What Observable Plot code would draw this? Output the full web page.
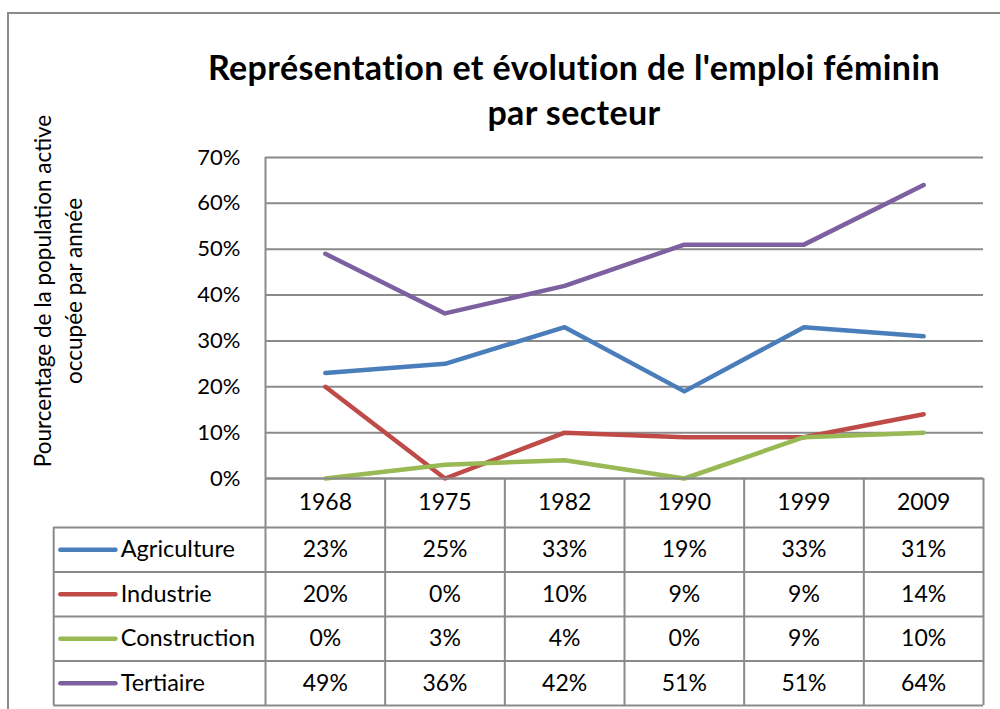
<!DOCTYPE html>
<html>
<head>
<meta charset="utf-8">
<script src="https://cdn.jsdelivr.net/npm/d3@7"></script>
<script src="https://cdn.jsdelivr.net/npm/@observablehq/plot@0.6"></script>
<style>
  body { margin: 0; background: #fff; }
  #wrap { position: relative; width: 1000px; height: 709px; overflow: hidden; background: #fff;
          font-family: Lato, "Open Sans", sans-serif; }
  #border { position: absolute; left: 7px; top: 12px; width: 1100px; height: 800px;
            border: 2px solid #8a8a8a; box-sizing: border-box; }
  #title { position: absolute; left: 0; width: 1148px; top: 44px; text-align: center;
           font-weight: 700; font-size: 34px; letter-spacing: 0.4px; line-height: 45px; color: #000; }
  .layer { position: absolute; left: 0; top: 0; }
</style>
</head>
<body>
<div id="wrap">
  <div id="border"></div>
  <div id="chart" class="layer"></div>
  <div id="table" class="layer"></div>
  <div id="title"></div>
</div>
<script>
// ---- data ----
const titleLines = ["Représentation et évolution de l'emploi féminin", "par secteur"];
const yTitle = "Pourcentage de la population active\noccupée par année";
const years = ["1968", "1975", "1982", "1990", "1999", "2009"];
const seriesNames = ["Agriculture", "Industrie", "Construction", "Tertiaire"];
const agriculture = [23, 25, 33, 19, 33, 31];
const industrie = [20, 0, 10, 9, 9, 14];
const construction = [0, 3, 4, 0, 9, 10];
const tertiaire = [49, 36, 42, 51, 51, 64];
const seriesColors = ["#4A7EBB", "#BE4B48", "#98B954", "#7D60A0"];
const yTicks = [0, 10, 20, 30, 40, 50, 60, 70];

// ---- derived table ----
const seriesValues = [agriculture, industrie, construction, tertiaire];
const rows = seriesNames.flatMap((s, si) =>
  years.map((year, i) => ({series: s, si, year, i, value: seriesValues[si][i]})));

const font = "Lato, 'Open Sans', sans-serif";
const gridColor = "#8a8a8a";
const colorScale = {domain: seriesNames, range: seriesColors};

document.getElementById("title").innerHTML = titleLines.join("<br>");

// ---- chart ----
const chart = Plot.plot({
  width: 1000, height: 709,
  marginLeft: 265, marginRight: 17, marginTop: 157, marginBottom: 231,
  x: {type: "linear", domain: [0, years.length], axis: null},
  y: {domain: [0, 70], axis: null},
  color: colorScale,
  style: {fontFamily: font, background: "transparent", overflow: "visible", color: "#000"},
  marks: [
    Plot.ruleY(yTicks, {stroke: gridColor, strokeWidth: 2}),
    Plot.ruleX([0], {stroke: gridColor, strokeWidth: 2}),
    Plot.line(rows, {
      x: d => d.i + 0.5, y: "value", z: "series", stroke: "series",
      strokeWidth: 4.5, strokeLinecap: "round", strokeLinejoin: "round"
    }),
    Plot.text(yTicks, {
      y: d => d, text: d => d + "%", frameAnchor: "left", textAnchor: "end",
      dx: -25, fontSize: 22, fill: "#000"
    }),
    Plot.text([yTitle], {
      text: d => d, frameAnchor: "left", textAnchor: "middle", rotate: -90, dx: -209, dy: -27,
      fontSize: 22.5, lineHeight: 1.4, fill: "#000"
    })
  ]
});
document.getElementById("chart").appendChild(chart);

// ---- data table ----
const labelLeft = -1.77, keyX1 = -1.71, keyX2 = -1.25, labelX = -1.21, headerTop = -1.1;
const table = Plot.plot({
  width: 1000, height: 709,
  marginLeft: 265, marginRight: 17, marginTop: 478, marginBottom: 4,
  x: {type: "linear", domain: [0, years.length], axis: null},
  y: {type: "linear", domain: [headerTop, seriesNames.length], range: [478, 705], axis: null},
  color: colorScale,
  style: {fontFamily: font, background: "transparent", overflow: "visible", color: "#000"},
  marks: [
    Plot.ruleY(d3.range(0, seriesNames.length + 1), {x1: labelLeft, x2: years.length, stroke: gridColor, strokeWidth: 2}),
    Plot.ruleY([headerTop], {x1: 0, x2: years.length, stroke: gridColor, strokeWidth: 2}),
    Plot.ruleX(d3.range(0, years.length + 1), {y1: headerTop, y2: seriesNames.length, stroke: gridColor, strokeWidth: 2}),
    Plot.ruleX([labelLeft], {y1: 0, y2: seriesNames.length, stroke: gridColor, strokeWidth: 2}),
    Plot.text(years, {x: (d, i) => i + 0.5, y: headerTop / 2, text: d => d, fontSize: 23, fill: "#000"}),
    Plot.text(rows, {x: d => d.i + 0.5, y: d => d.si + 0.5, text: d => d.value + "%", fontSize: 23, fill: "#000"}),
    Plot.ruleY(seriesNames, {
      y: (d, i) => i + 0.5, x1: keyX1, x2: keyX2, stroke: d => d,
      strokeWidth: 4.5, strokeLinecap: "round"
    }),
    Plot.text(seriesNames, {
      x: labelX, y: (d, i) => i + 0.5, text: d => d, textAnchor: "start", fontSize: 23.5, fill: "#000"
    })
  ]
});
document.getElementById("table").appendChild(table);
</script>
</body>
</html>
